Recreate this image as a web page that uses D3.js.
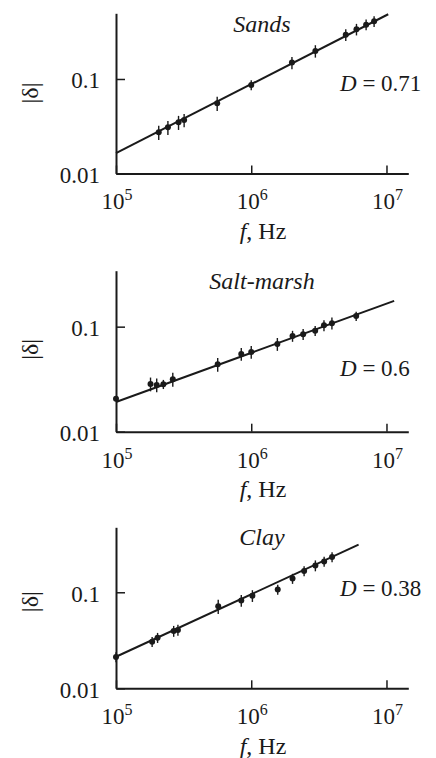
<!DOCTYPE html>
<html>
<head>
<meta charset="utf-8">
<script src="https://cdn.jsdelivr.net/npm/d3@7"></script>
<style>
  html, body { margin: 0; padding: 0; background: #ffffff; }
  svg { display: block; }
</style>
</head>
<body>
<svg id="chart" width="436" height="758"></svg>
<script>
// ---------------- DATA ----------------
const panelTitles = ["Sands", "Salt-marsh", "Clay"];
const panelD = ["0.71", "0.6", "0.38"];

const xTickValues = [1e5, 1e6, 1e7];
const xTickBase = ["10", "10", "10"];
const xTickExp = ["5", "6", "7"];
const yTickValues = [0.01, 0.1];
const yTickLabels = ["0.01", "0.1"];

// Sands
const freqSands  = [2.07e5, 2.42e5, 2.9e5, 3.19e5, 5.6e5, 1.0e6, 2.0e6, 2.98e6, 5.0e6, 6.0e6, 7.07e6, 8.1e6];
const deltaSands = [0.0273, 0.0308, 0.0348, 0.0368, 0.0553, 0.0864, 0.149, 0.198, 0.294, 0.336, 0.376, 0.408];
const errSands   = [0.17, 0.17, 0.17, 0.16, 0.17, 0.12, 0.15, 0.15, 0.14, 0.14, 0.13, 0.13];
const fitSandsF  = [1e5, 1.03e7];
const fitSandsD  = [0.0164, 0.484];

// Salt-marsh
const freqSalt  = [1.0e5, 1.8e5, 2.0e5, 2.24e5, 2.63e5, 5.65e5, 8.44e5, 1.0e6, 1.56e6, 2.02e6, 2.42e6, 2.97e6, 3.45e6, 3.95e6, 5.97e6];
const deltaSalt = [0.0206, 0.0285, 0.0279, 0.0283, 0.0316, 0.0438, 0.055, 0.0574, 0.0684, 0.0815, 0.0847, 0.0916, 0.103, 0.108, 0.126];
const errSalt   = [0, 0.15, 0.15, 0.1, 0.15, 0.15, 0.14, 0.14, 0.14, 0.12, 0.12, 0.11, 0.12, 0.13, 0.1];
const fitSaltF  = [1e5, 1.14e7];
const fitSaltD  = [0.0192, 0.176];

// Clay
const freqClay  = [1.0e5, 1.85e5, 2.03e5, 2.67e5, 2.87e5, 5.7e5, 8.44e5, 1.02e6, 1.57e6, 2.02e6, 2.46e6, 2.98e6, 3.46e6, 3.96e6];
const deltaClay = [0.0212, 0.0306, 0.0337, 0.0395, 0.0405, 0.0715, 0.0822, 0.0922, 0.107, 0.139, 0.167, 0.190, 0.209, 0.233];
const errClay   = [0.12, 0.12, 0.12, 0.13, 0.13, 0.17, 0.14, 0.14, 0.12, 0.12, 0.12, 0.13, 0.12, 0.12];
const fitClayF  = [1e5, 6.22e6];
const fitClayD  = [0.0213, 0.313];

// ---------------- LAYOUT ----------------
const ink = "#1a1a1a";
const serif = "'Liberation Serif', 'Tinos', 'Times New Roman', 'Nimbus Roman', 'DejaVu Serif', serif";
const panels = [
  { f: freqSands, d: deltaSands, e: errSands, ff: fitSandsF, fd: fitSandsD,
    axisY: 173.5, topY: 13.3, yTop: 0.4955, titleY: 31.7, dY: 90.7, labelY: 93 },
  { f: freqSalt, d: deltaSalt, e: errSalt, ff: fitSaltF, fd: fitSaltD,
    axisY: 431.7, topY: 270.7, yTop: 0.341, titleY: 289.3, dY: 376, labelY: 349.3 },
  { f: freqClay, d: deltaClay, e: errClay, ff: fitClayF, fd: fitClayD,
    axisY: 688.3, topY: 527.3, yTop: 0.475, titleY: 545, dY: 596, labelY: 601.7 }
];

const svg = d3.select("#chart");
const x = d3.scaleLog().domain([1e5, 1.45e7]).range([116, 408.3]);

function txt(sel) {
  return sel.append("text").style("font-family", serif).attr("fill", ink);
}

panels.forEach((p, i) => {
  const y = d3.scaleLog().domain([0.01, p.yTop]).range([p.axisY, p.topY]);
  const g = svg.append("g");

  // x axis
  const xa = g.append("g")
    .attr("transform", `translate(0,${p.axisY})`)
    .call(d3.axisBottom(x).tickValues(xTickValues).tickSizeInner(-8).tickSizeOuter(0).tickFormat(""));
  xa.select(".domain").attr("stroke", ink).attr("stroke-width", 2);
  xa.selectAll(".tick line").attr("stroke", ink).attr("stroke-width", 1.5);

  // y axis
  const ya = g.append("g")
    .attr("transform", `translate(116,0)`)
    .call(d3.axisLeft(y).tickValues(yTickValues).tickSizeInner(-9).tickSizeOuter(0).tickFormat(""));
  ya.select(".domain").attr("stroke", ink).attr("stroke-width", 2);
  ya.selectAll(".tick line").attr("stroke", ink).attr("stroke-width", 1.5);

  // x tick labels with superscripts
  xTickValues.forEach((v, k) => {
    const t = txt(g)
      .attr("x", x(v) + 1)
      .attr("y", p.axisY + 35.8)
      .attr("text-anchor", "middle")
      .attr("font-size", 23);
    t.append("tspan").text(xTickBase[k]);
    t.append("tspan").attr("font-size", 16).attr("dy", -9).text(xTickExp[k]);
  });

  // y tick labels
  yTickValues.forEach((v, k) => {
    txt(g)
      .attr("x", 100)
      .attr("y", y(v) + 9.5)
      .attr("text-anchor", "end")
      .attr("font-size", 23)
      .text(yTickLabels[k]);
  });

  // x axis label
  const xl = txt(g)
    .attr("x", 263)
    .attr("y", p.axisY + 65.5)
    .attr("text-anchor", "middle")
    .attr("font-size", 24);
  xl.append("tspan").attr("font-style", "italic").text("f");
  xl.append("tspan").text(", Hz");

  // y axis label
  txt(g)
    .attr("transform", `translate(38,${p.labelY}) rotate(-90)`)
    .attr("text-anchor", "middle")
    .attr("font-size", 24)
    .text("|δ|");

  // title
  txt(g)
    .attr("x", 262)
    .attr("y", p.titleY)
    .attr("text-anchor", "middle")
    .attr("font-size", 24)
    .attr("font-style", "italic")
    .text(panelTitles[i]);

  // D label
  const dl = txt(g)
    .attr("x", 340)
    .attr("y", p.dY)
    .attr("font-size", 23);
  dl.append("tspan").attr("font-style", "italic").text("D");
  dl.append("tspan").text(" = " + panelD[i]);

  // fit line
  const fit = p.ff.map((fv, k) => [fv, p.fd[k]]);
  g.append("path")
    .datum(fit)
    .attr("fill", "none")
    .attr("stroke", ink)
    .attr("stroke-width", 2)
    .attr("d", d3.line().x(d => x(d[0])).y(d => y(d[1])));

  // data
  const pts = p.f.map((fv, k) => ({ f: fv, d: p.d[k], e: p.e[k] }));
  g.selectAll(".err").data(pts.filter(d => d.e > 0)).join("line")
    .attr("x1", d => x(d.f)).attr("x2", d => x(d.f))
    .attr("y1", d => y(d.d * (1 + d.e)))
    .attr("y2", d => y(d.d * (1 - d.e)))
    .attr("stroke", ink).attr("stroke-width", 1.4);
  g.selectAll(".pt").data(pts).join("circle")
    .attr("cx", d => x(d.f)).attr("cy", d => y(d.d))
    .attr("r", 3).attr("fill", ink);
});
</script>
</body>
</html>
